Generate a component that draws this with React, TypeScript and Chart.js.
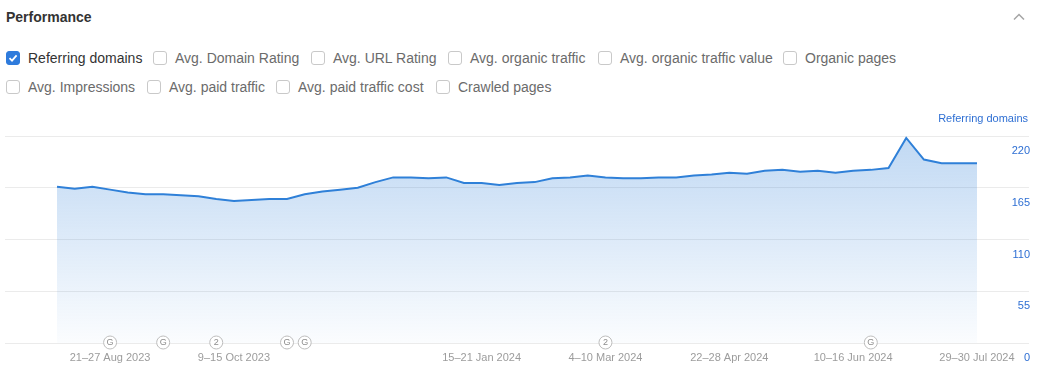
import React, { useEffect, useRef } from 'react';
import { Chart, registerables } from 'chart.js';

Chart.register(...registerables);

// ---- Data ----
const referringDomains = [
  166, 164, 166, 163, 160, 158, 158, 157, 156, 153, 151, 152, 153, 153, 158, 161, 163, 165,
  171, 176, 176, 175, 176, 170, 170, 168, 170, 171, 175, 176, 178, 176, 175, 175, 176, 176,
  178, 179, 181, 180, 183, 184, 182, 183, 181, 183, 184, 186, 218, 195, 191, 191, 191,
];
const xTickIndex = [3, 10, 24, 31, 38, 45, 52];
const xTickLabels = [
  '21–27 Aug 2023',
  '9–15 Oct 2023',
  '15–21 Jan 2024',
  '4–10 Mar 2024',
  '22–28 Apr 2024',
  '10–16 Jun 2024',
  '29–30 Jul 2024',
];
const yTicks = [0, 55, 110, 165, 220];
const markerIndex = [3, 6, 9, 13, 14, 31, 46];
const markerText = ['G', 'G', '2', 'G', 'G', '2', 'G'];

const row1Labels = ['Referring domains', 'Avg. Domain Rating', 'Avg. URL Rating', 'Avg. organic traffic', 'Avg. organic traffic value', 'Organic pages'];
const row1X = [6, 153, 311, 448, 598, 783];
const row2Labels = ['Avg. Impressions', 'Avg. paid traffic', 'Avg. paid traffic cost', 'Crawled pages'];
const row2X = [6, 147, 276, 436];
const checkedLabels = ['Referring domains'];

const FONT = '"Liberation Sans", Arial, Helvetica, sans-serif';

function Checkbox({ x, y, label }: { x: number; y: number; label: string }) {
  const checked = checkedLabels.includes(label);
  return (
    <div style={{ position: 'absolute', left: x, top: y - 8, height: 16, display: 'flex', alignItems: 'center' }}>
      <div
        style={{
          width: 14,
          height: 14,
          boxSizing: 'border-box',
          borderRadius: 3,
          border: checked ? '1px solid #2e7bdc' : '1px solid #c9c9c9',
          background: checked ? '#2e7bdc' : '#fff',
          display: 'flex',
          alignItems: 'center',
          justifyContent: 'center',
        }}
      >
        {checked && (
          <svg width="10" height="10" viewBox="0 0 10 10">
            <polyline points="1.5,5.2 4,7.6 8.6,2.4" fill="none" stroke="#fff" strokeWidth="1.8" />
          </svg>
        )}
      </div>
      <span style={{ marginLeft: 8, fontSize: 14, color: checked ? '#333' : '#6b6b6b', whiteSpace: 'nowrap' }}>{label}</span>
    </div>
  );
}

export default function App() {
  const canvasRef = useRef<HTMLCanvasElement | null>(null);

  useEffect(() => {
    document.body.style.margin = '0';
    Chart.defaults.font.family = FONT;
    const canvas = canvasRef.current;
    if (!canvas) return;

    const extras = {
      id: 'extras',
      afterDraw(chart: any) {
        const ctx = chart.ctx;
        const xs = chart.scales.x;
        const area = chart.chartArea;
        ctx.save();
        // axis title
        ctx.font = `11px ${FONT}`;
        ctx.fillStyle = '#2e6fd3';
        ctx.textAlign = 'right';
        ctx.textBaseline = 'middle';
        ctx.fillText('Referring domains', 1028, 19);
        // annotation markers
        markerIndex.forEach((idx, i) => {
          const cx = xs.getPixelForValue(idx);
          const cy = area.bottom - 0.5;
          ctx.beginPath();
          ctx.arc(cx, cy, 6.5, 0, Math.PI * 2);
          ctx.fillStyle = '#fff';
          ctx.fill();
          ctx.lineWidth = 1;
          ctx.strokeStyle = '#bdbdbd';
          ctx.stroke();
          ctx.fillStyle = '#8c8c8c';
          ctx.font = `9px ${FONT}`;
          ctx.textAlign = 'center';
          ctx.textBaseline = 'middle';
          ctx.fillText(markerText[i], cx, cy + 0.5);
        });
        ctx.restore();
      },
    };

    const chart = new Chart(canvas, {
      type: 'line',
      data: {
        datasets: [
          {
            data: referringDomains.map((v, i) => ({ x: i, y: v })),
            borderColor: '#2f80d8',
            borderWidth: 2,
            pointRadius: 0,
            tension: 0,
            fill: 'origin',
            backgroundColor: (c: any) => {
              const area = c.chart.chartArea;
              if (!area) return 'rgba(47,128,216,0.2)';
              const g = c.chart.ctx.createLinearGradient(0, area.top, 0, area.bottom);
              g.addColorStop(0, 'rgba(47,128,216,0.30)');
              g.addColorStop(1, 'rgba(47,128,216,0.02)');
              return g;
            },
          },
        ],
      },
      options: {
        animation: false,
        responsive: false,
        devicePixelRatio: 1,
        layout: { padding: { top: 36, left: 5, right: 15, bottom: 0 } },
        plugins: { legend: { display: false }, tooltip: { enabled: false } },
        scales: {
          x: {
            type: 'linear',
            min: -2.94,
            max: 54.94,
            afterBuildTicks: (s: any) => {
              s.ticks = xTickIndex.map((v) => ({ value: v }));
            },
            afterFit: (s: any) => {
              s.height = 30;
            },
            ticks: {
              autoSkip: false,
              maxRotation: 0,
              padding: 8,
              color: '#9c9c9c',
              font: { size: 11 },
              callback: (v: any) => {
                const k = xTickIndex.indexOf(Number(v));
                return k >= 0 ? xTickLabels[k] : '';
              },
            },
            grid: { display: false, drawTicks: false, tickLength: 0 },
            border: { display: false },
          },
          y: {
            position: 'right',
            min: 0,
            max: 220,
            afterBuildTicks: (s: any) => {
              s.ticks = yTicks.map((v) => ({ value: v }));
            },
            afterFit: (s: any) => {
              s.width = 0;
            },
            ticks: {
              mirror: true,
              padding: 1,
              labelOffset: 15,
              color: '#2e6fd3',
              font: { size: 11 },
            },
            grid: { color: '#ebebeb', drawTicks: false, tickLength: 0 },
            border: { display: false },
          },
        },
      },
      plugins: [extras],
    } as any);

    return () => chart.destroy();
  }, []);

  return (
    <div style={{ position: 'absolute', left: 0, top: 0, width: 1044, height: 373, background: '#fff', fontFamily: FONT, overflow: 'hidden' }}>
      <div style={{ position: 'absolute', left: 6, top: 9, fontSize: 14, fontWeight: 'bold', color: '#333' }}>Performance</div>
      <svg style={{ position: 'absolute', left: 1012, top: 12 }} width="14" height="10" viewBox="0 0 14 10">
        <polyline points="2,7.5 7,2.5 12,7.5" fill="none" stroke="#a5a5a5" strokeWidth="1.5" />
      </svg>
      {row1Labels.map((l, i) => (
        <Checkbox key={l} x={row1X[i]} y={58} label={l} />
      ))}
      {row2Labels.map((l, i) => (
        <Checkbox key={l} x={row2X[i]} y={87} label={l} />
      ))}
      <canvas ref={canvasRef} width={1044} height={273} style={{ position: 'absolute', left: 0, top: 100, width: 1044, height: 273 }} />
    </div>
  );
}
